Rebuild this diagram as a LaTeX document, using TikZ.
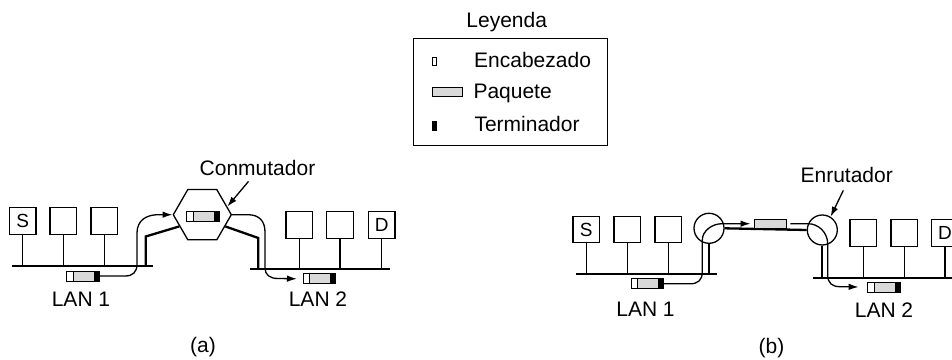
\documentclass[tikz,border=0pt]{standalone}
\usepackage{fontspec}
\setmainfont{Liberation Sans}
\usepackage{tikz}
\usetikzlibrary{arrows.meta, positioning, shapes.geometric, calc}

\tikzset{
  station/.style={draw, line width=1.3pt, minimum size=26.5pt, inner sep=0pt, font=\fontsize{19}{19}\selectfont},
  bus/.style={line width=2pt},
  stem/.style={line width=1.5pt},
  link/.style={line width=2.3pt},
  flow/.style={line width=1.3pt, -{Latex[length=10pt, width=6.5pt]}},
  lbl/.style={font=\fontsize{21}{24}\selectfont, inner sep=0pt, anchor=base},
  pkt/.style={minimum width=32pt, minimum height=9.5pt, inner sep=0pt, fill=gray!30},
}

% packet with header (white) and terminator (black)
\newcommand{\datapkt}[3]{%
  \node[pkt] (#1) at (#2,#3) {};
  \fill[white] (#1.north west) rectangle ([xshift=6.5pt]#1.south west);
  \fill[black] ([xshift=-5.5pt]#1.north east) rectangle (#1.south east);
  \draw[line width=0.9pt] (#1.north west) rectangle (#1.south east);
  \draw[line width=0.9pt] ([xshift=6.5pt]#1.north west) -- ([xshift=6.5pt]#1.south west);
}

\begin{document}
\begin{tikzpicture}[x=1pt, y=1pt]
  \useasboundingbox (0,0) rectangle (952,359);
  \clip (0,0) rectangle (952,359);

  % Legend
  \node[lbl] (leyenda) at (506.7,331.7) {Leyenda};
  \draw[line width=1pt] (413.3,320.7) rectangle (607.7,213);
  \node[draw, line width=0.9pt, minimum width=3.7pt, minimum height=7.3pt, inner sep=0pt] (keyhdr) at (434.2,297.5) {};
  \node[pkt, draw, line width=0.9pt, minimum width=30.4pt, minimum height=8.7pt] (keypkt) at (447.5,267) {};
  \node[fill=black, minimum width=4.4pt, minimum height=10pt, inner sep=0pt] (keyend) at (434.5,232.5) {};
  \node[lbl, anchor=base west] at (474,291) {Encabezado};
  \node[lbl, anchor=base west] at (473.3,260) {Paquete};
  \node[lbl, anchor=base west] at (474.3,227.5) {Terminador};

  % (a) LAN 1 and LAN 2 with a switch
  \coordinate (busA1w) at (12,93);
  \coordinate (busA1e) at (153,93);
  \coordinate (busA2w) at (250,90);
  \coordinate (busA2e) at (390,90);
  \draw[bus] (busA1w) -- (busA1e);
  \draw[bus] (busA2w) -- (busA2e);
  \foreach \n/\x/\t in {a1/22.7/S, a2/63.3/{}, a3/104.3/{}} {
    \node[station] (\n) at (\x,138) {\t};
    \draw[stem] (\n.south) -- (\n.south |- busA1w);
  }
  \foreach \n/\x/\t in {a4/299.3/{}, a5/340/{}, a6/381.7/D} {
    \node[station] (\n) at (\x,134) {\t};
    \draw[stem] (\n.south) -- (\n.south |- busA2w);
  }

  \node[regular polygon, regular polygon sides=6, draw, line width=1.3pt, minimum size=58pt, inner sep=0pt] (hex) at (202.3,144.3) {};
  \datapkt{pkhex}{203}{143}
  \datapkt{pka1}{83}{83}
  \datapkt{pka2}{319.2}{80.2}

  \draw[link] (busA1w -| 145.7,0) -- (145.7,122.5) -- (hex.207);
  \draw[link] (busA2w -| 258.3,0) -- (258.3,121) -- (hex.333);

  \draw[flow] (pka1.east) -- (125,83) .. controls (133,83) and (137,87) .. (137,95)
    -- (137,126) .. controls (137,139) and (147,144.3) .. (158,144.3) -- (hex.west);
  \draw[flow] (hex.east) -- (248,144.3) .. controls (259,144.3) and (265,138) .. (265,127)
    -- (265,91) .. controls (265,84) and (270,80.5) .. (278,80.5) -- ([xshift=-6pt]pka2.west);

  \node[lbl] (conm) at (257.5,183) {Conmutador};
  \draw[flow] ([shift={(-9pt,-5pt)}]conm.south) -- (hex.18);

  \node[lbl] at (81,52.3) {LAN 1};
  \node[lbl] at (318,52.3) {LAN 2};
  \node[lbl] at (203,6.5) {(a)};

  % (b) LAN 1 and LAN 2 with routers
  \coordinate (busB1w) at (576,85);
  \coordinate (busB1e) at (717,85);
  \coordinate (busB2w) at (813,81.5);
  \coordinate (busB2e) at (960,81.5);
  \draw[bus] (busB1w) -- (busB1e);
  \draw[bus] (busB2w) -- (busB2e);
  \foreach \n/\x/\t in {b1/586.3/S, b2/627.3/{}, b3/668.3/{}} {
    \node[station] (\n) at (\x,129.5) {\t};
    \draw[stem] (\n.south) -- (\n.south |- busB1w);
  }
  \foreach \n/\x/\t in {b4/863.3/{}, b5/904.3/{}, b6/945/D} {
    \node[station] (\n) at (\x,126) {\t};
    \draw[stem] (\n.south) -- (\n.south |- busB2w);
  }

  \node[circle, draw, line width=1.3pt, minimum size=30pt, inner sep=0pt] (rtr1) at (709,130.7) {};
  \node[circle, draw, line width=1.3pt, minimum size=30pt, inner sep=0pt] (rtr2) at (822.3,129) {};

  \draw[link] (rtr1.south) -- (rtr1.south |- busB1w);
  \draw[link] (rtr2.south) -- (rtr2.south |- busB2w);
  \draw[link] (rtr1.east) -- (rtr2.west);

  \datapkt{pkb1}{647.5}{75.2}
  \datapkt{pkb2}{883.8}{72}
  \node[pkt, draw, line width=0.9pt] (pkmid) at (770,135.3) {};

  \draw[flow] (pkb1.east) -- (690,75.2) .. controls (698,75.2) and (702.3,79) .. (702.3,87)
    -- (702.3,119) .. controls (702.3,128) and (712,135.3) .. (722,135.3) -- ([xshift=-3pt]pkmid.west);
  \draw[flow] ([xshift=4pt]pkmid.east) -- (808,135.3) .. controls (818,135.3) and (827.7,127) .. (827.7,115)
    -- (827.7,84) .. controls (827.7,76) and (832,72.3) .. (840,72.3) -- ([xshift=-9pt]pkb2.west);

  \node[lbl] (enrut) at (846.7,176) {Enrutador};
  \draw[flow] ([shift={(-3.4pt,-7pt)}]enrut.south) -- (rtr2.58);

  \node[lbl] at (645.5,42.3) {LAN 1};
  \node[lbl] at (884,42) {LAN 2};
  \node[lbl] at (771.5,6) {(b)};
\end{tikzpicture}
\end{document}
